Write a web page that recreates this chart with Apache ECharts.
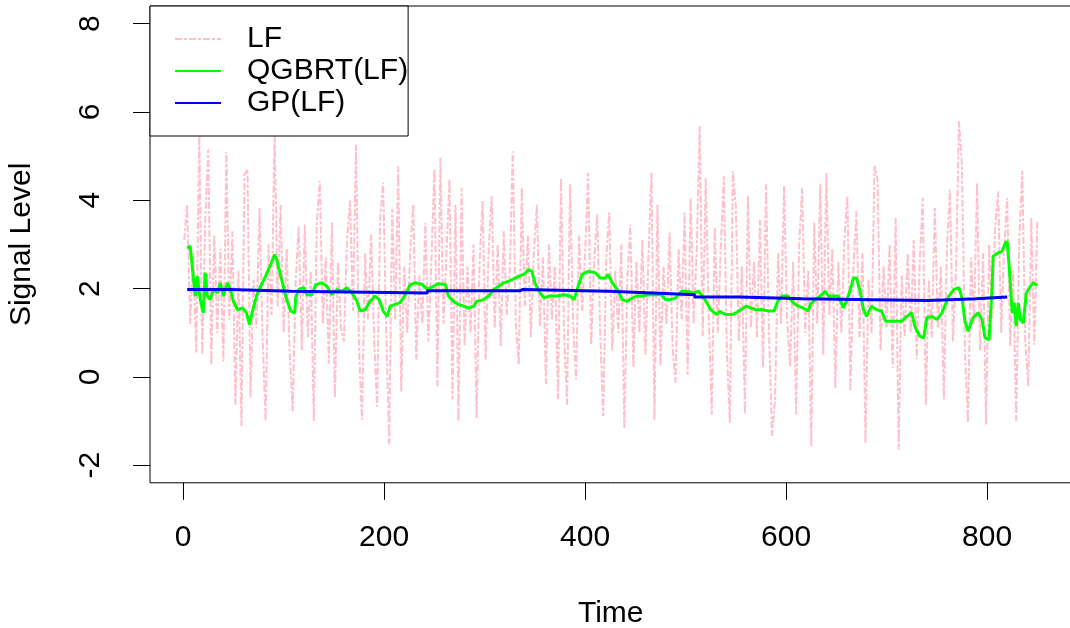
<!DOCTYPE html>
<html><head><meta charset="utf-8">
<script src="https://cdn.jsdelivr.net/npm/echarts@6/dist/echarts.min.js"></script>
<style>html,body{margin:0;padding:0;background:#fff;overflow:hidden}#c{width:1070px;height:628px}</style>
</head><body><div id="c"></div>
<script>
const seriesNames = ['LF', 'QGBRT(LF)', 'GP(LF)'];
const xTicks = [0, 200, 400, 600, 800];
const yTicks = [-2, 0, 2, 4, 6, 8];

// LF signal: one reading every 3 time steps starting at t = 1
const lfStart = 1, lfStep = 3;
const lfValue = [
  3.1, 3.9, 1.2, 2.8, 0.55, 5.5, 0.5, 3.6, 5.15, 0.28,
  3.2, 1.0, 2.9, 0.35, 5.1, 1.3, 3.3, -0.63, 2.4, -1.12,
  4.58, 4.7, -0.47, 2.2, 1.1, 3.83, 0.9, -1.0, 3.0, 1.4,
  5.6, 1.6, 3.9, 1.0, 2.9, 0.55, -0.78, 2.2, 3.4, 0.6,
  3.45, 0.9, 2.4, -1.0, 3.5, 4.43, 1.2, 2.7, 0.3, 3.5,
  -0.47, 2.6, 1.1, 0.8, 3.1, 4.0, 1.5, 5.26, 0.6, -0.97,
  2.8, 1.3, 3.22, 0.9, -0.67, 3.56, 4.4, 1.1, -1.53, 3.8,
  1.3, 4.77, -0.33, 2.5, 1.0, 2.9, 3.9, 0.39, 2.3, 1.2,
  3.49, 0.8, 2.6, 4.7, -0.21, 4.96, 1.2, 2.8, 4.47, -0.51,
  3.9, -1.0, 4.28, 0.7, 2.5, 1.0, 3.0, -0.93, 2.6, 3.98,
  0.39, 2.9, 4.09, 1.1, 3.0, 0.7, 3.3, 1.4, 2.4, 5.11,
  1.2, 0.28, 4.28, 1.6, 3.2, 0.9, 2.8, 3.9, 1.15, 2.7,
  -0.17, 3.0, 1.3, 2.5, -0.51, 4.5, 1.0, -0.63, 4.36, 1.2,
  -0.06, 3.2, 1.5, 2.8, 4.62, 0.73, 2.6, 3.68, 1.0, -0.89,
  2.7, 3.72, 0.6, 2.4, 1.0, 3.0, -1.16, 2.2, 3.45, 0.21,
  2.6, 1.0, 3.1, 0.5, 2.7, 4.62, -0.97, 3.9, 0.24, 2.5,
  1.2, 3.27, 0.7, -0.14, 2.9, 1.3, 3.72, 0.05, 4.05, 1.2,
  2.8, 5.68, 0.92, 4.5, 1.4, -0.85, 3.38, 1.0, 2.9, 4.54,
  0.6, -1.04, 4.66, 3.83, 0.8, 2.5, -0.85, 4.09, 1.1, 2.6,
  0.9, 3.56, 0.21, 4.36, 1.0, -1.34, -0.51, 2.8, 1.2, 4.32,
  1.3, 0.24, 2.6, -0.85, 3.0, 4.28, 1.0, 2.4, -1.57, 3.49,
  1.2, 4.36, 0.5, 4.62, 1.4, 2.9, -0.25, 2.6, 1.0, 3.1,
  4.09, -0.33, 2.5, 3.75, 0.9, 2.8, -1.5, 2.2, 1.0, 4.77,
  4.47, 0.6, 2.5, 1.1, 3.0, 0.2, 3.6, -1.65, 2.3, 0.9,
  2.8, 1.0, 3.1, 0.4, 2.6, 4.05, -0.63, 2.2, 0.9, 3.83,
  1.1, 2.5, -0.51, 2.9, 4.24, 0.8, 2.4, 5.79, 4.77, 0.5,
  -1.04, 2.7, 1.2, 4.39, 0.6, 2.8, -1.08, 3.0, 1.3, 3.4,
  4.2, 1.0, 2.9, 4.05, 0.7, 2.4, -1.0, 3.1, 4.66, 0.8,
  -0.21, 3.6, 0.73, 3.52
];

const qgbrtTime = [
  4, 7, 10, 12, 14, 17, 20, 22, 24, 27, 30, 34, 37, 40, 44, 47, 50, 54, 59, 63,
  66, 69, 73, 77, 82, 87, 91, 93, 98, 103, 107, 111, 112, 115, 120, 123, 128, 132, 138, 143,
  148, 153, 158, 163, 168, 173, 176, 181, 186, 191, 195, 199, 203, 206, 211, 216, 221, 226, 231, 238,
  243, 249, 254, 261, 264, 269, 274, 279, 284, 289, 292, 299, 304, 309, 314, 319, 324, 329, 334, 339,
  344, 347, 350, 354, 359, 365, 372, 379, 385, 389, 393, 397, 403, 410, 415, 420, 423, 427, 432, 437,
  442, 447, 452, 457, 463, 470, 476, 480, 485, 490, 496, 501, 508, 513, 518, 521, 525, 531, 534, 536,
  541, 546, 550, 555, 560, 565, 570, 576, 583, 588, 591, 596, 602, 607, 612, 617, 622, 624, 629, 634,
  639, 642, 647, 652, 657, 660, 664, 667, 670, 674, 677, 680, 685, 690, 695, 699, 707, 715, 720, 725,
  728, 733, 737, 740, 745, 750, 755, 762, 767, 772, 775, 778, 781, 786, 791, 795, 798, 802, 805, 806,
  811, 815, 818, 820, 822, 825, 827, 829, 831, 833, 836, 839, 843, 846, 850
];
const qgbrtValue = [
  2.92, 2.96, 2.28, 1.83, 2.28, 1.75, 1.45, 2.36, 1.83, 1.75, 1.98, 1.9, 2.13, 1.83, 2.13, 1.98, 1.71, 1.52, 1.56, 1.45,
  1.18, 1.49, 1.83, 2.05, 2.28, 2.54, 2.77, 2.66, 2.2, 1.75, 1.49, 1.45, 1.79, 1.98, 2.02, 1.86, 1.86, 2.09, 2.13, 2.05,
  1.86, 1.98, 1.94, 2.02, 1.9, 1.71, 1.49, 1.52, 1.71, 1.83, 1.75, 1.49, 1.37, 1.6, 1.64, 1.68, 1.86, 2.09, 2.13, 2.09,
  1.98, 2.05, 2.11, 2.09, 1.83, 1.71, 1.64, 1.6, 1.56, 1.6, 1.71, 1.75, 1.83, 1.98, 2.05, 2.13, 2.17, 2.22, 2.28, 2.32,
  2.43, 2.39, 2.13, 1.94, 1.79, 1.83, 1.83, 1.86, 1.83, 1.75, 2.05, 2.32, 2.39, 2.36, 2.24, 2.24, 2.32, 2.13, 1.98, 1.75,
  1.71, 1.79, 1.83, 1.83, 1.86, 1.86, 1.86, 1.75, 1.75, 1.79, 1.94, 1.94, 1.9, 1.94, 1.79, 1.68, 1.52, 1.41, 1.49, 1.45,
  1.41, 1.41, 1.45, 1.52, 1.6, 1.56, 1.52, 1.52, 1.49, 1.49, 1.68, 1.83, 1.83, 1.68, 1.6, 1.56, 1.49, 1.64, 1.75, 1.83,
  1.94, 1.83, 1.83, 1.83, 1.56, 1.71, 1.98, 2.24, 2.24, 1.9, 1.52, 1.37, 1.6, 1.52, 1.49, 1.26, 1.26, 1.26, 1.37, 1.45,
  1.15, 0.92, 0.88, 1.34, 1.37, 1.3, 1.45, 1.83, 1.98, 2.02, 1.79, 1.26, 1.03, 1.34, 1.45, 1.3, 0.88, 0.84, 2.05, 2.73,
  2.81, 2.85, 3.03, 3.07, 2.5, 1.45, 1.68, 1.15, 1.68, 1.3, 1.22, 1.9, 2.05, 2.13, 2.07
];

// GP fit: piecewise-constant levels, each holding until the next break
const gpTime = [4, 47, 108, 243, 335, 338, 423, 468, 509, 554, 616, 742, 789, 820];
const gpValue = [1.98, 1.94, 1.90, 1.95, 1.98, 1.94, 1.90, 1.86, 1.81, 1.77, 1.73, 1.77, 1.81, 1.81];

const FONT = "'Liberation Sans', Arial, sans-serif";
const lfData = lfValue.map((v, i) => [lfStart + i * lfStep, v]);
const qData = qgbrtTime.map((t, i) => [t, qgbrtValue[i]]);
const gpData = gpTime.map((t, i) => [t, gpValue[i]]);

const chart = echarts.init(document.getElementById('c'), null, {renderer: 'canvas'});
chart.setOption({
  animation: false,
  backgroundColor: '#fff',
  textStyle: {fontFamily: FONT},
  grid: {left: 150, right: -1.5, top: 6, bottom: 145.2, show: true, borderColor: '#000', borderWidth: 1,
         containLabel: false, outerBoundsMode: 'none'},
  legend: {
    left: 150, top: 6, orient: 'vertical', selectedMode: false,
    padding: [18, 0, 18, 24], itemGap: 2, itemWidth: 46, itemHeight: 14,
    borderColor: '#000', borderWidth: 1, backgroundColor: '#fff',
    itemStyle: {opacity: 0},
    textStyle: {fontSize: 30, color: '#000', fontFamily: FONT, padding: [0, 0, 0, 21], lineHeight: 30},
    data: seriesNames
  },
  xAxis: {
    type: 'value', min: -33, max: 884,
    name: 'Time', nameLocation: 'middle', nameGap: 116,
    nameTextStyle: {fontSize: 30, color: '#000', fontFamily: FONT},
    axisLine: {show: false, onZero: false},
    axisTick: {show: true, inside: false, length: 17, lineStyle: {color: '#000', width: 1}, customValues: xTicks},
    axisLabel: {fontSize: 30, color: '#000', fontFamily: FONT, margin: 40, customValues: xTicks},
    splitLine: {show: false}
  },
  yAxis: {
    type: 'value', min: -2.4, max: 8.4,
    name: 'Signal Level', nameLocation: 'middle', nameGap: 113, nameRotate: 90,
    nameTextStyle: {fontSize: 30, color: '#000', fontFamily: FONT},
    axisLine: {show: false, onZero: false},
    axisTick: {show: true, inside: false, length: 17, lineStyle: {color: '#000', width: 1}, customValues: yTicks},
    axisLabel: {fontSize: 30, color: '#000', fontFamily: FONT, margin: 44, rotate: 90, customValues: yTicks},
    splitLine: {show: false}
  },
  series: [
    {name: seriesNames[0], type: 'line', data: lfData, symbol: 'none', z: 2,
     lineStyle: {color: '#FFC0CB', width: 2, type: [7, 2, 3, 2]}, itemStyle: {color: '#FFC0CB'}},
    {name: seriesNames[1], type: 'line', data: qData, symbol: 'none', z: 3,
     lineStyle: {color: '#00FF00', width: 3}, itemStyle: {color: '#00FF00'}},
    {name: seriesNames[2], type: 'line', data: gpData, symbol: 'none', step: 'end', z: 4,
     lineStyle: {color: '#0000FF', width: 3}, itemStyle: {color: '#0000FF'}}
  ]
});
</script>
</body></html>
